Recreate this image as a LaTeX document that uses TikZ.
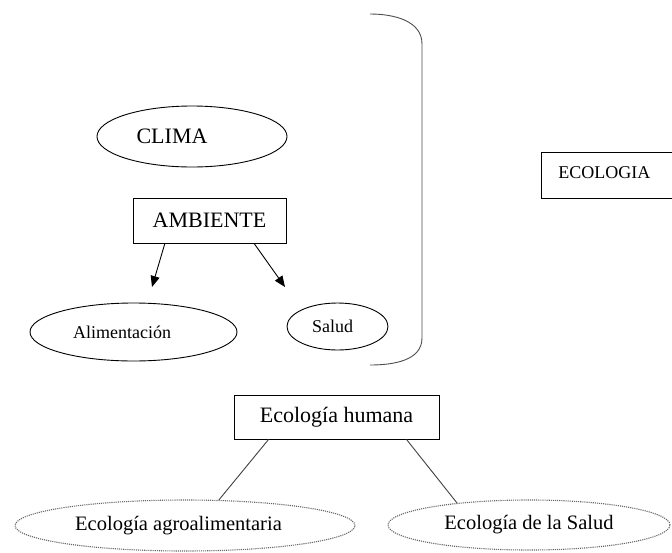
\documentclass[tikz,border=0pt]{standalone}
\usepackage{fontspec}
\setmainfont{Liberation Serif}
\usetikzlibrary{shapes.geometric,arrows.meta,calc}

\begin{document}
\begin{tikzpicture}[x=1pt,y=-1pt,
    oval/.style={ellipse,draw,inner sep=0mm,line width=0.9pt},
    dots/.style={ellipse,draw=black!60,densely dotted,inner sep=0mm,line width=1.1pt},
    caja/.style={rectangle,draw,inner sep=0mm,line width=0.9pt},
    big/.style={font=\fontsize{22}{25}\selectfont},
    small/.style={font=\fontsize{18}{21}\selectfont}]
                \useasboundingbox (0,0) rectangle (672,552);
                \node[oval,big,minimum width=190,minimum height=61] (clima) at (192,136.5) {CLIMA\hspace*{40pt}};
                \node[caja,big,minimum width=153,minimum height=45] (ambiente) at (209.5,220.5) {AMBIENTE};
                \node[oval,small,minimum width=207,minimum height=58] (alim) at (133.5,332) {Alimentación\hspace*{23pt}};
                \node[oval,small,minimum width=101,minimum height=47] (salud) at (337.5,326.5) {Salud\hspace*{10pt}};
                \node[caja,small,anchor=west,minimum width=150,minimum height=46] (ecologia) at (541,175) {\raisebox{4pt}{ECOLOGIA}\hspace*{24pt}};
                \node[caja,big,minimum width=205,minimum height=44] (humana) at (336.5,417) {Ecología humana};
                \node[dots,font=\fontsize{20.5}{24}\selectfont,minimum width=340,minimum height=51] (agro) at (185,525.5) {Ecología agroalimentaria\hspace*{13pt}};
                \node[dots,font=\fontsize{20.5}{24}\selectfont,minimum width=282,minimum height=50] (ecosalud) at (529,525) {Ecología de la Salud};
                \coordinate (alimtip) at (152,287);
                \coordinate (saludtip) at (285,287);
                \foreach \f/\t in {0.21/alimtip, 0.79/saludtip}
                \draw[-{Triangle[length=11pt,width=9pt]},line width=0.9pt] ($(ambiente.south west)!\f!(ambiente.south east)$) -- (\t);
                \foreach \f/\t in {0.17/agro.37, 0.84/ecosalud.163}
                \draw[line width=0.9pt,black!75] ($(humana.south west)!\f!(humana.south east)$) -- (\t);
                \draw[line width=0.9pt,black!70] (370,14) to[out=0,in=90] (422,44) -- (422,338) to[out=-90,in=0] (370,365);

            \end{tikzpicture}
\end{document}
